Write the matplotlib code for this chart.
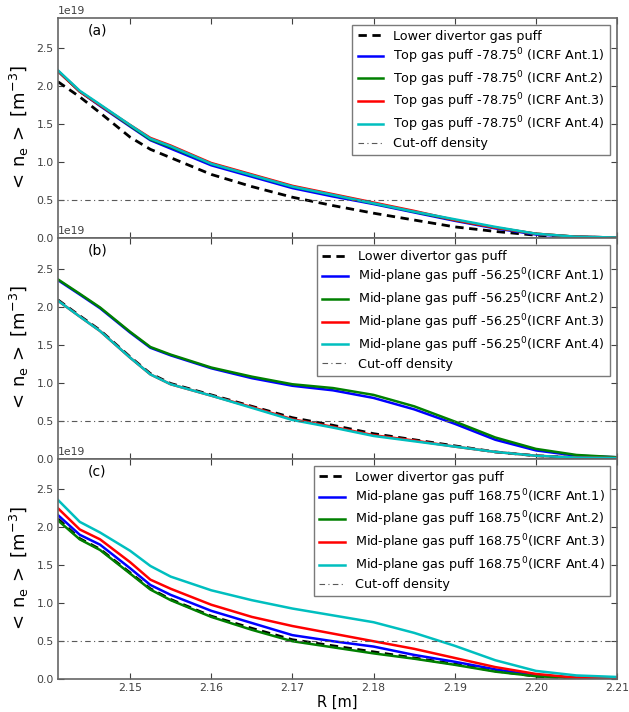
import numpy as np
import matplotlib
matplotlib.use("Agg")
import matplotlib.pyplot as plt
from matplotlib.ticker import MultipleLocator

# radial positions [m]
R = [2.1411, 2.1438, 2.1463, 2.150, 2.1525, 2.155, 2.160, 2.165, 2.170,
     2.175, 2.180, 2.185, 2.190, 2.195, 2.200, 2.205, 2.210]

# line-averaged density, units of 1e19 m^-3
# (a) top gas puff
a_lower = [2.06, 1.86, 1.65, 1.33, 1.17, 1.06, 0.84, 0.68, 0.54, 0.43, 0.33, 0.24, 0.15, 0.09, 0.04, 0.015, 0.01]
a_ant1 = [2.20, 1.93, 1.74, 1.47, 1.29, 1.18, 0.96, 0.81, 0.66, 0.55, 0.45, 0.34, 0.23, 0.13, 0.05, 0.02, 0.01]
a_ant2 = [2.20, 1.93, 1.75, 1.48, 1.30, 1.20, 0.98, 0.83, 0.68, 0.57, 0.46, 0.35, 0.24, 0.14, 0.06, 0.02, 0.01]
a_ant3 = [2.20, 1.93, 1.75, 1.49, 1.32, 1.22, 0.99, 0.84, 0.69, 0.58, 0.47, 0.36, 0.24, 0.14, 0.06, 0.02, 0.01]
a_ant4 = [2.21, 1.94, 1.76, 1.49, 1.31, 1.21, 0.98, 0.83, 0.68, 0.57, 0.46, 0.35, 0.25, 0.15, 0.06, 0.02, 0.01]

# (b) mid-plane gas puff -56.25
b_lower = [2.09, 1.88, 1.69, 1.34, 1.12, 0.99, 0.84, 0.69, 0.54, 0.44, 0.33, 0.25, 0.17, 0.09, 0.04, 0.015, 0.01]
b_ant1 = [2.35, 2.16, 1.98, 1.66, 1.46, 1.36, 1.19, 1.06, 0.96, 0.90, 0.80, 0.65, 0.46, 0.25, 0.11, 0.04, 0.02]
b_ant2 = [2.36, 2.17, 1.99, 1.67, 1.47, 1.37, 1.20, 1.08, 0.98, 0.93, 0.84, 0.69, 0.49, 0.28, 0.13, 0.05, 0.02]
b_ant3 = [2.08, 1.87, 1.68, 1.33, 1.11, 0.98, 0.83, 0.68, 0.52, 0.42, 0.31, 0.24, 0.16, 0.09, 0.04, 0.015, 0.01]
b_ant4 = [2.08, 1.87, 1.68, 1.33, 1.11, 0.98, 0.83, 0.67, 0.51, 0.41, 0.30, 0.23, 0.16, 0.09, 0.04, 0.015, 0.01]

# (c) mid-plane gas puff 168.75
c_lower = [2.11, 1.85, 1.71, 1.40, 1.19, 1.05, 0.83, 0.67, 0.52, 0.44, 0.36, 0.28, 0.20, 0.11, 0.04, 0.015, 0.01]
c_ant1 = [2.16, 1.90, 1.77, 1.46, 1.24, 1.11, 0.90, 0.74, 0.58, 0.50, 0.43, 0.32, 0.23, 0.13, 0.05, 0.02, 0.01]
c_ant2 = [2.09, 1.84, 1.70, 1.39, 1.18, 1.04, 0.82, 0.65, 0.50, 0.42, 0.34, 0.27, 0.19, 0.10, 0.04, 0.015, 0.01]
c_ant3 = [2.25, 1.97, 1.84, 1.54, 1.31, 1.19, 0.98, 0.82, 0.70, 0.60, 0.50, 0.40, 0.28, 0.16, 0.07, 0.02, 0.01]
c_ant4 = [2.36, 2.07, 1.93, 1.69, 1.49, 1.35, 1.17, 1.04, 0.93, 0.84, 0.75, 0.61, 0.44, 0.25, 0.11, 0.05, 0.03]

cutoff = 0.5

panels = [
    ("(a)", "Top gas puff -78.75$^0$ (ICRF Ant.{})", a_lower, [a_ant1, a_ant2, a_ant3, a_ant4]),
    ("(b)", "Mid-plane gas puff -56.25$^0$(ICRF Ant.{})", b_lower, [b_ant1, b_ant2, b_ant3, b_ant4]),
    ("(c)", "Mid-plane gas puff 168.75$^0$(ICRF Ant.{})", c_lower, [c_ant1, c_ant2, c_ant3, c_ant4]),
]
colors = ["b", "g", "r", "c"]
scale = 1e19

fig, axes = plt.subplots(3, 1, figsize=(6.29, 7.12), dpi=100, sharex=True)
fig.subplots_adjust(left=0.092, right=0.981, bottom=0.046, top=0.975, hspace=0)

for ax, (tag, name, lower, ants) in zip(axes, panels):
    ax.plot(R, np.array(lower) * scale, color="k", lw=2, ls="--", dashes=(3, 2),
            label="Lower divertor gas puff")
    for i, (vals, col) in enumerate(zip(ants, colors)):
        ax.plot(R, np.array(vals) * scale, color=col, lw=1.8, label=name.format(i + 1))
    ax.axhline(cutoff * scale, color="0.35", lw=0.8, ls=(0, (5, 3, 1, 3)),
               label="Cut-off density")

    ax.set_xlim(2.1411, 2.21)
    ax.set_ylim(0, 2.9e19)
    ax.yaxis.set_major_locator(MultipleLocator(0.5e19))
    ax.xaxis.set_major_locator(MultipleLocator(0.01))
    ax.ticklabel_format(axis="x", useOffset=False)
    ax.tick_params(direction="in", top=True, right=True, length=4, width=0.8,
                   labelsize=7.8, colors="0.25", pad=3)
    ax.yaxis.get_offset_text().set_fontsize(7.8)
    ax.yaxis.get_offset_text().set_color("0.25")
    for sp in ax.spines.values():
        sp.set_color("0.4")
        sp.set_linewidth(1.2)
    ax.set_ylabel(r"$<\,\mathregular{n_e}\,>\ [\mathregular{m^{-3}}]$", fontsize=13)
    ax.text(0.053, 0.975, tag, transform=ax.transAxes, va="top", fontsize=10)
    leg = ax.legend(loc="upper right", fontsize=9.2, fancybox=False,
                    handlelength=2.0, labelspacing=0.25, borderaxespad=0.55)
    leg.get_frame().set_edgecolor("0.35")
    leg.get_frame().set_linewidth(1.0)

axes[-1].set_xlabel("R [m]", fontsize=10.5, labelpad=1)

fig.savefig("out.png", dpi=100, facecolor="white")
